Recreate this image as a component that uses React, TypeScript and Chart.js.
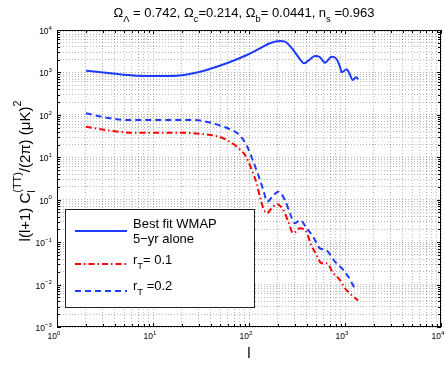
import React, { useEffect, useRef } from 'react';
import { Chart, registerables } from 'chart.js';

Chart.register(...registerables);

const FONT = '"Liberation Sans", Arial, Helvetica, sans-serif';

// ---------- data ----------
const wmapL = [2, 3.6, 6.8, 11.8, 17.6, 31, 58.6, 95, 130, 165, 210, 237, 289, 340, 374, 415, 487, 549, 619, 727, 806, 887, 924, 1042, 1109, 1203, 1302, 1376];
const wmapV = [1099, 953, 837, 824, 837, 1040, 1640, 2574, 3705, 4860, 5505, 5300, 3378, 2040, 1640, 1890, 2440, 2274, 1695, 2350, 2153, 1365, 1007, 1185, 953, 663, 768, 689];

const r01L = [2, 3.57, 6.2, 17.6, 33, 50, 58.6, 70, 81, 91, 107, 120, 130, 141, 153, 172, 194, 228, 257, 289, 340, 399, 440, 487, 574, 647, 755, 887, 1000, 1169, 1370];
const r01V = [52.6, 42.4, 38, 38, 35.4, 30, 25.5, 20, 15, 11.3, 5.0, 2.44, 1.18, 0.63, 0.479, 0.628, 0.793, 0.573, 0.303, 0.162, 0.212, 0.17, 0.09, 0.058, 0.0317, 0.0317, 0.0184, 0.0128, 0.0082, 0.0057, 0.0042];

const r02L = [2, 3.57, 5.3, 11.8, 26, 36, 54, 66, 74.5, 85, 94.6, 111, 125, 141, 155, 175, 202, 237, 267, 301, 340, 399, 464, 549, 635, 788, 961, 1083, 1260];
const r02V = [109, 83, 75.7, 75.7, 75.7, 69, 52.6, 44, 38, 28, 19, 7.9, 3.8, 1.69, 0.9, 1.18, 1.55, 0.98, 0.479, 0.278, 0.333, 0.212, 0.135, 0.0716, 0.0653, 0.0346, 0.0221, 0.0153, 0.0082];

const xDecades = [0, 1, 2, 3, 4];
const yDecades = [-3, -2, -1, 0, 1, 2, 3, 4];

const legendWmap = ['Best fit WMAP', '5\u2212yr alone'];
const legendR01 = '= 0.1';
const legendR02 = ' =0.2';

type Seg = { t?: string; k?: 'n' | 'sub' | 'sup'; sub?: string; sup?: string };

const titleSegs: Seg[] = [
  { t: '\u03A9' }, { t: '\u039B', k: 'sub' }, { t: ' = 0.742, \u03A9' }, { t: 'c', k: 'sub' },
  { t: '=0.214, \u03A9' }, { t: 'b', k: 'sub' }, { t: '= 0.0441, n' }, { t: 's', k: 'sub' }, { t: ' =0.963' },
];
const yLabelSegs: Seg[] = [
  { t: 'l(l+1) C' }, { sub: 'l', sup: '(TT)' }, { t: '/(2\u03C0) (\u03BCK)' }, { t: '2', k: 'sup' },
];

const BLUE = 'rgb(30,60,255)';
const RED = 'rgb(255,0,0)';
const DASH_DOT = [6, 3, 1.5, 3];
const DASHED = [6, 4];

function logTicks(lo: number, hi: number) {
  const out: { value: number }[] = [];
  for (let d = lo; d < hi; d++) {
    for (let k = 1; k <= 9; k++) out.push({ value: Number((k * Math.pow(10, d)).toPrecision(6)) });
  }
  out.push({ value: Math.pow(10, hi) });
  return out;
}

const SUP_R = 0.72;
function segWidth(ctx: CanvasRenderingContext2D, s: Seg, size: number) {
  const small = size * SUP_R;
  if (s.sub !== undefined || s.sup !== undefined) {
    ctx.font = `${small}px ${FONT}`;
    return Math.max(ctx.measureText(s.sub || '').width, ctx.measureText(s.sup || '').width);
  }
  ctx.font = `${s.k && s.k !== 'n' ? small : size}px ${FONT}`;
  return ctx.measureText(s.t || '').width;
}
function drawSegs(ctx: CanvasRenderingContext2D, segs: Seg[], x: number, y: number, size: number, align: 'left' | 'center' | 'right', subOff = 0.33, supOff = 0.45) {
  let total = 0;
  for (const s of segs) total += segWidth(ctx, s, size);
  let cx = align === 'center' ? x - total / 2 : align === 'right' ? x - total : x;
  ctx.textAlign = 'left';
  ctx.textBaseline = 'alphabetic';
  const small = size * SUP_R;
  for (const s of segs) {
    const w = segWidth(ctx, s, size);
    if (s.sub !== undefined || s.sup !== undefined) {
      ctx.font = `${small}px ${FONT}`;
      if (s.sub) ctx.fillText(s.sub, cx, y + size * subOff);
      if (s.sup) ctx.fillText(s.sup, cx, y - size * supOff);
    } else if (s.k === 'sub') {
      ctx.font = `${small}px ${FONT}`;
      ctx.fillText(s.t || '', cx, y + size * subOff);
    } else if (s.k === 'sup') {
      ctx.font = `${small}px ${FONT}`;
      ctx.fillText(s.t || '', cx, y - size * supOff);
    } else {
      ctx.font = `${size}px ${FONT}`;
      ctx.fillText(s.t || '', cx, y);
    }
    cx += w;
  }
}

const decorPlugin = {
  id: 'decor',
  afterDraw(chart: any) {
    const ctx: CanvasRenderingContext2D = chart.ctx;
    const { left, right, top, bottom } = chart.chartArea;
    const xs = chart.scales.x;
    const ys = chart.scales.y;
    ctx.save();

    // tick marks (inward, all four sides)
    ctx.strokeStyle = '#000';
    ctx.lineWidth = 1;
    ctx.beginPath();
    for (const t of logTicks(xDecades[0], xDecades[xDecades.length - 1])) {
      const major = Math.abs(Math.log10(t.value) - Math.round(Math.log10(t.value))) < 1e-9;
      const len = major ? 4 : 3;
      const px = Math.round(xs.getPixelForValue(t.value)) + 0.5;
      ctx.moveTo(px, bottom); ctx.lineTo(px, bottom - len);
      ctx.moveTo(px, top); ctx.lineTo(px, top + len);
    }
    for (const t of logTicks(yDecades[0], yDecades[yDecades.length - 1])) {
      const major = Math.abs(Math.log10(t.value) - Math.round(Math.log10(t.value))) < 1e-9;
      const len = major ? 4 : 3;
      const py = Math.round(ys.getPixelForValue(t.value)) + 0.5;
      ctx.moveTo(left, py); ctx.lineTo(left + len, py);
      ctx.moveTo(right, py); ctx.lineTo(right - len, py);
    }
    ctx.stroke();

    // axes box
    ctx.strokeStyle = '#000';
    ctx.lineWidth = 1;
    ctx.strokeRect(Math.round(left) + 0.5, Math.round(top) + 0.5, Math.round(right - left) - 1, Math.round(bottom - top) - 1);

    ctx.fillStyle = '#000';
    // x tick labels
    for (const d of xDecades) {
      const px = xs.getPixelForValue(Math.pow(10, d));
      drawSegs(ctx, [{ t: '10' }, { t: String(d), k: 'sup' }], px - 3, bottom + 12, 8.5, 'center', 0.33, 0.5);
    }
    // y tick labels
    for (const d of yDecades) {
      const py = ys.getPixelForValue(Math.pow(10, d));
      drawSegs(ctx, [{ t: '10' }, { t: String(d).replace('-', '\u2212'), k: 'sup' }], left - 5, py + 4, 8.5, 'right', 0.33, 0.5);
    }

    // title
    drawSegs(ctx, titleSegs, 244, 17, 13, 'center', 0.35, 0.45);

    // x label
    ctx.font = `15px ${FONT}`;
    ctx.textAlign = 'center';
    ctx.fillText('l', (left + right) / 2, 358);

    // y label (rotated)
    ctx.save();
    ctx.translate(30, 171);
    ctx.rotate(-Math.PI / 2);
    drawSegs(ctx, yLabelSegs, 0, 0, 15, 'center', 0.3, 0.62);
    ctx.restore();

    // legend
    const bx = 65.5, by = 209.5, bw = 189, bh = 98;
    ctx.fillStyle = '#fff';
    ctx.fillRect(bx, by, bw, bh);
    ctx.strokeStyle = '#222';
    ctx.lineWidth = 1;
    ctx.strokeRect(bx, by, bw, bh);

    const lx0 = 75, lx1 = 127, tx = 133;
    const sample = (y: number, color: string, dash: number[]) => {
      ctx.strokeStyle = color;
      ctx.lineWidth = 2;
      ctx.setLineDash(dash);
      ctx.beginPath();
      ctx.moveTo(lx0, y); ctx.lineTo(lx1, y);
      ctx.stroke();
      ctx.setLineDash([]);
    };
    sample(231, BLUE, []);
    sample(264, RED, DASH_DOT);
    sample(291, BLUE, DASHED);

    ctx.fillStyle = '#000';
    ctx.font = `13px ${FONT}`;
    ctx.textAlign = 'left';
    ctx.fillText(legendWmap[0], tx, 228);
    ctx.fillText(legendWmap[1], tx, 243);
    drawSegs(ctx, [{ t: 'r' }, { t: 'T', k: 'sub' }, { t: legendR01 }], tx, 264, 13, 'left', 0.35, 0.45);
    drawSegs(ctx, [{ t: 'r' }, { t: 'T', k: 'sub' }, { t: legendR02 }], tx, 290, 13, 'left', 0.35, 0.45);

    ctx.restore();
  },
};

function pts(L: number[], V: number[]) {
  return L.map((x, i) => ({ x, y: V[i] }));
}

export default function App() {
  const ref = useRef<HTMLCanvasElement>(null);
  useEffect(() => {
    const canvas = ref.current!;
    const gridCommon = {
      color: 'rgba(0,0,0,0.28)',
      lineWidth: 1,
      drawTicks: false,
    };
    const chart = new Chart(canvas, {
      type: 'line',
      data: {
        datasets: [
          {
            label: 'Best fit WMAP 5-yr alone',
            data: pts(wmapL, wmapV),
            borderColor: BLUE,
            borderWidth: 2,
            pointRadius: 0,
            fill: false,
            cubicInterpolationMode: 'monotone',
          },
          {
            label: 'r_T = 0.1',
            data: pts(r01L, r01V),
            borderColor: RED,
            borderWidth: 2,
            borderDash: DASH_DOT,
            pointRadius: 0,
            fill: false,
            cubicInterpolationMode: 'monotone',
          },
          {
            label: 'r_T = 0.2',
            data: pts(r02L, r02V),
            borderColor: BLUE,
            borderWidth: 2,
            borderDash: DASHED,
            pointRadius: 0,
            fill: false,
            cubicInterpolationMode: 'monotone',
          },
        ],
      },
      options: {
        responsive: false,
        animation: false,
        devicePixelRatio: 1,
        events: [],
        layout: { padding: { left: 57, top: 30, right: 5, bottom: 38 } },
        plugins: {
          legend: { display: false },
          title: { display: false },
          tooltip: { enabled: false },
        },
        scales: {
          x: {
            type: 'logarithmic',
            min: Math.pow(10, xDecades[0]),
            max: Math.pow(10, xDecades[xDecades.length - 1]),
            afterBuildTicks: (s: any) => { s.ticks = logTicks(xDecades[0], xDecades[xDecades.length - 1]); },
            afterFit: (s: any) => { s.height = 0; },
            ticks: { display: false },
            grid: gridCommon,
            border: { display: false, dash: [1, 2] },
          },
          y: {
            type: 'logarithmic',
            min: Math.pow(10, yDecades[0]),
            max: Math.pow(10, yDecades[yDecades.length - 1]),
            afterBuildTicks: (s: any) => { s.ticks = logTicks(yDecades[0], yDecades[yDecades.length - 1]); },
            afterFit: (s: any) => { s.width = 0; },
            ticks: { display: false },
            grid: gridCommon,
            border: { display: false, dash: [1, 2] },
          },
        },
      } as any,
      plugins: [decorPlugin],
    });
    return () => chart.destroy();
  }, []);
  return (
    <div style={{ position: 'absolute', left: 0, top: 0, width: 446, height: 365, background: '#fff' }}>
      <canvas ref={ref} width={446} height={365} style={{ display: 'block', width: 446, height: 365 }} />
    </div>
  );
}
